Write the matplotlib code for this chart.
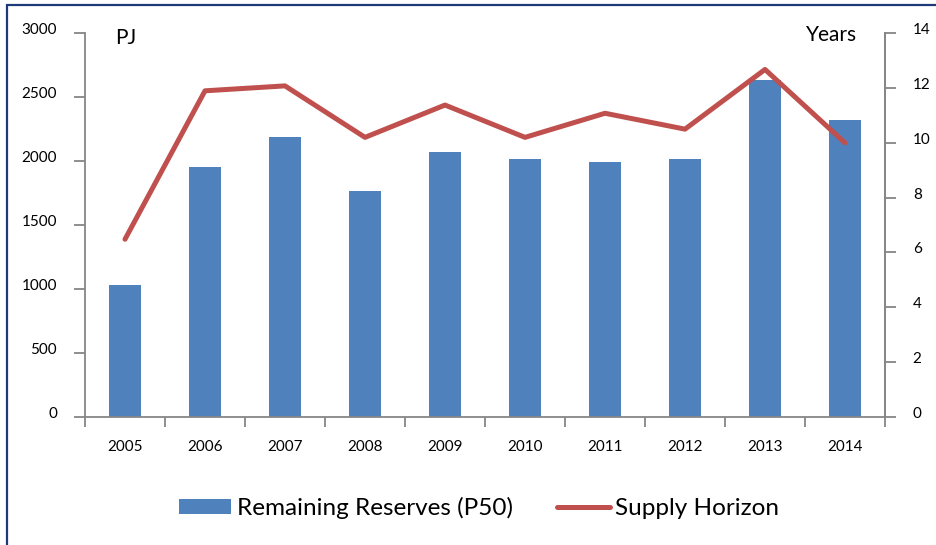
import numpy as np
import matplotlib
matplotlib.use("Agg")
from matplotlib import pyplot as plt
from matplotlib import transforms
from matplotlib.patches import Patch, Rectangle
from matplotlib.lines import Line2D

years = ["2005", "2006", "2007", "2008", "2009", "2010", "2011", "2012", "2013", "2014"]
reserves = [1030, 1950, 2192, 1768, 2070, 2016, 1996, 2016, 2636, 2322]
horizon = [6.48, 11.9, 12.08, 10.2, 11.38, 10.2, 11.08, 10.5, 12.68, 10.0]

plt.rcParams['font.family'] = ['Lato', 'DejaVu Sans']
blue = "#4F81BD"
red = "#C0504D"
grey = "#868686"

fig = plt.figure(figsize=(9.36, 5.45), dpi=100)

# navy frame around the chart (right and bottom edges fall outside the picture)
fig.patches.append(Rectangle((7.5 / 936, -0.05), 1.0, 1.05 - 4.5 / 545,
                             transform=fig.transFigure, fill=False,
                             edgecolor="#1F3A7A", linewidth=1.6))

ax = fig.add_axes([85 / 936, 1 - 416.7 / 545, 800 / 936, 383.4 / 545])
x = np.arange(len(years))
ax.bar(x, reserves, width=0.4, color=blue, zorder=2)
ax.set_xlim(-0.5, len(years) - 0.5)
ax.set_ylim(0, 3000)
ax.set_yticks(range(0, 3001, 500))
ax.set_xticks(x)
ax.set_xticklabels(years)
ax.set_xticks(np.arange(-0.5, len(years), 1), minor=True)
ax.tick_params(axis='x', which='major', length=0, pad=17, labelsize=11)
ax.tick_params(axis='x', which='minor', length=7, color=grey, width=1.3, direction='out')
ax.tick_params(axis='y', length=8, color=grey, width=1.3, labelsize=11, pad=12)
ax.spines['top'].set_visible(False)
for s in ['left', 'bottom', 'right']:
    ax.spines[s].set_color(grey)
    ax.spines[s].set_linewidth(1.3)

ax2 = ax.twinx()
ax2.plot(x, horizon, color=red, linewidth=3.6, solid_capstyle='round', zorder=3)
ax2.set_ylim(0, 14)
ax2.set_yticks(range(0, 15, 2))
ax2.tick_params(axis='y', length=8, color=grey, width=1.3, labelsize=11, pad=12)
ax2.spines['top'].set_visible(False)
ax2.spines['right'].set_color(grey)
ax2.spines['right'].set_linewidth(1.3)
ax2.spines['left'].set_visible(False)
ax2.spines['bottom'].set_visible(False)

# value labels sit a little above their tick marks
shift = transforms.ScaledTranslation(0, 4.5 / 100, fig.dpi_scale_trans)
for lbl in ax.get_yticklabels() + ax2.get_yticklabels():
    lbl.set_transform(lbl.get_transform() + shift)

fig.text(115 / 936, 1 - 38 / 545, "PJ", fontsize=15, va='center', ha='left')
fig.text(857 / 936, 1 - 35 / 545, "Years", fontsize=15, va='center', ha='right')

handles = [Patch(facecolor=blue, edgecolor='none'),
           Line2D([0], [0], color=red, linewidth=3.6, solid_capstyle='round')]
fig.legend(handles, ["Remaining Reserves (P50)", "Supply Horizon"],
           loc='center', bbox_to_anchor=(479 / 936, 1 - 508 / 545), ncol=2,
           frameon=False, fontsize=17.5, handlelength=2.15, handleheight=0.62,
           handletextpad=0.22, columnspacing=1.85)

fig.savefig("out.png", dpi=100)
